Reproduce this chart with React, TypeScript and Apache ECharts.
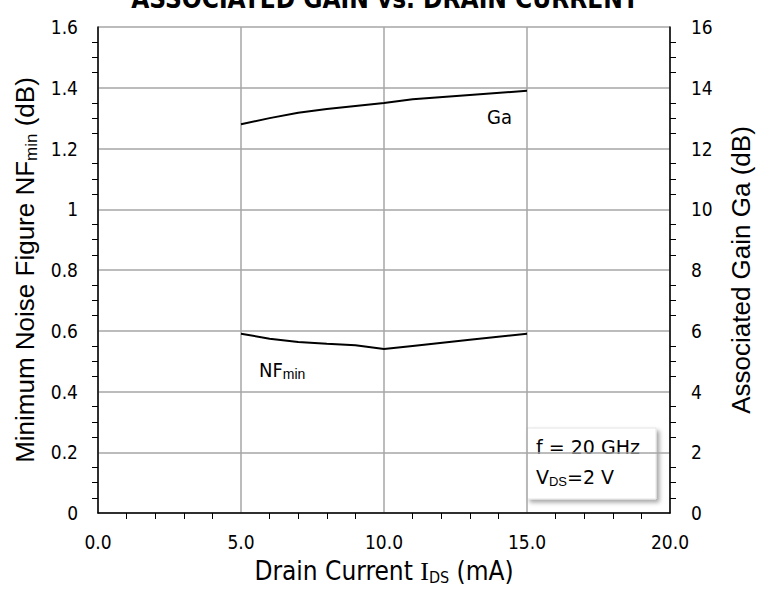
import React, { useEffect, useRef } from "react";
import * as echarts from "echarts";

const gaCurrent = [5, 6, 7, 8, 9, 10, 11, 13, 15];
const gaValues = [12.8, 13.0, 13.18, 13.3, 13.4, 13.5, 13.62, 13.76, 13.9];
const nfCurrent = [5, 6, 7, 8, 9, 10, 11, 13, 15];
const nfValues = [0.59, 0.574, 0.563, 0.557, 0.552, 0.54, 0.55, 0.57, 0.59];
const xTickLabels = ["0.0", "5.0", "10.0", "15.0", "20.0"];

const TAHOMA = "'DejaVu Sans Condensed', 'DejaVu Sans', sans-serif";
const ARIAL = "'Liberation Sans', Arial, sans-serif";

export default function App() {
  const ref = useRef<HTMLDivElement>(null);
  useEffect(() => {
    document.body.style.margin = "0";
    const chart = echarts.init(ref.current!, null, { renderer: "svg" });
    const axisLabel = { color: "#000", fontFamily: TAHOMA, fontSize: 19 };
    const gridLine = { show: true, lineStyle: { color: "#a6a6a6", width: 1.5 } };
    const subStyle = (size: number, pad: number) => ({
      fontSize: size,
      color: "#000",
      verticalAlign: "bottom",
      padding: [pad, 0, 0, 0],
    });
    chart.setOption({
      animation: false,
      backgroundColor: "#fff",
      title: {
        text: "ASSOCIATED GAIN vs. DRAIN CURRENT",
        left: "center",
        top: -19,
        textStyle: { fontFamily: TAHOMA, fontSize: 26, fontWeight: "bold", color: "#000" },
      },
      grid: { left: 98, right: 100, top: 27, bottom: 75 },
      xAxis: {
        type: "value",
        min: 0,
        max: 20,
        interval: 5,
        name: "Drain Current {i|I}{sub|DS} (mA)",
        nameLocation: "middle",
        nameGap: 44,
        nameTextStyle: {
          color: "#000",
          fontFamily: TAHOMA,
          fontSize: 26,
          rich: {
            i: { fontFamily: "'Liberation Serif', serif", fontSize: 26, color: "#000" },
            sub: subStyle(16, 12),
          },
        },
        axisLine: { show: true, lineStyle: { color: "#000", width: 1.5 } },
        axisTick: { show: false },
        minorTick: { show: true, splitNumber: 5, length: 6, lineStyle: { color: "#000", width: 1 } },
        axisLabel: {
          ...axisLabel,
          margin: 19,
          formatter: (v: number) => xTickLabels[Math.round(v / 5)] ?? v.toFixed(1),
        },
        splitLine: gridLine,
      },
      yAxis: [
        {
          type: "value",
          min: 0,
          max: 1.6,
          interval: 0.2,
          position: "left",
          name: "Minimum Noise Figure NF{sub|min} (dB)",
          nameLocation: "middle",
          nameGap: 58,
          nameTextStyle: {
            color: "#000",
            fontFamily: ARIAL,
            fontSize: 26,
            rich: { sub: subStyle(17, 12) },
          },
          axisLine: { show: true, lineStyle: { color: "#000", width: 1.5 } },
          axisTick: { show: false },
          minorTick: { show: true, splitNumber: 4, length: 6, lineStyle: { color: "#000", width: 1 } },
          axisLabel: {
            ...axisLabel,
            margin: 20,
            formatter: (v: number) => (Math.abs(v - Math.round(v)) < 1e-9 ? String(Math.round(v)) : v.toFixed(1)),
          },
          splitLine: gridLine,
        },
        {
          type: "value",
          min: 0,
          max: 16,
          interval: 2,
          position: "right",
          name: "Associated Gain Ga (dB)",
          nameLocation: "middle",
          nameGap: 58,
          nameRotate: 90,
          nameTextStyle: { color: "#000", fontFamily: ARIAL, fontSize: 26 },
          axisLine: { show: true, lineStyle: { color: "#000", width: 1.5 } },
          axisTick: { show: false },
          minorTick: { show: true, splitNumber: 4, length: 6, lineStyle: { color: "#000", width: 1 } },
          axisLabel: { ...axisLabel, margin: 21 },
          splitLine: { show: false },
        },
      ],
      series: [
        {
          name: "NFmin",
          type: "line",
          yAxisIndex: 0,
          data: nfCurrent.map((x, i) => [x, nfValues[i]]),
          showSymbol: false,
          lineStyle: { color: "#000", width: 2 },
        },
        {
          name: "Ga",
          type: "line",
          yAxisIndex: 1,
          data: gaCurrent.map((x, i) => [x, gaValues[i]]),
          showSymbol: false,
          lineStyle: { color: "#000", width: 2 },
        },
      ],
      graphic: [
        {
          type: "text",
          x: 487,
          y: 107,
          style: { text: "Ga", fontFamily: TAHOMA, fontSize: 20, fill: "#000" },
        },
        {
          type: "text",
          x: 259,
          y: 358,
          style: {
            text: "NF{sub|min}",
            fontFamily: TAHOMA,
            fontSize: 20,
            fill: "#000",
            rich: { sub: { fontSize: 14, fill: "#000", verticalAlign: "bottom", padding: [9, 0, 0, 0] } },
          },
        },
        {
          type: "rect",
          shape: { x: 527, y: 428, width: 129, height: 71 },
          style: {
            fill: "#fff",
            stroke: "#e4e4e4",
            lineWidth: 1,
            shadowBlur: 4,
            shadowOffsetX: 3,
            shadowOffsetY: 3,
            shadowColor: "rgba(0,0,0,0.35)",
          },
        },
        {
          type: "text",
          x: 536,
          y: 437,
          style: { text: "f = 20 GHz", fontFamily: "'DejaVu Sans', sans-serif", fontSize: 19, fill: "#000" },
        },
        {
          type: "text",
          x: 536,
          y: 466,
          style: {
            text: "V{sub|DS}=2 V",
            fontFamily: "'DejaVu Sans', sans-serif",
            fontSize: 19,
            fill: "#000",
            rich: { sub: { fontSize: 13, fill: "#000", verticalAlign: "bottom", padding: [9, 0, 0, 0] } },
          },
        },
      ],
    });
    return () => chart.dispose();
  }, []);
  return <div ref={ref} style={{ width: 770, height: 590 }} />;
}
